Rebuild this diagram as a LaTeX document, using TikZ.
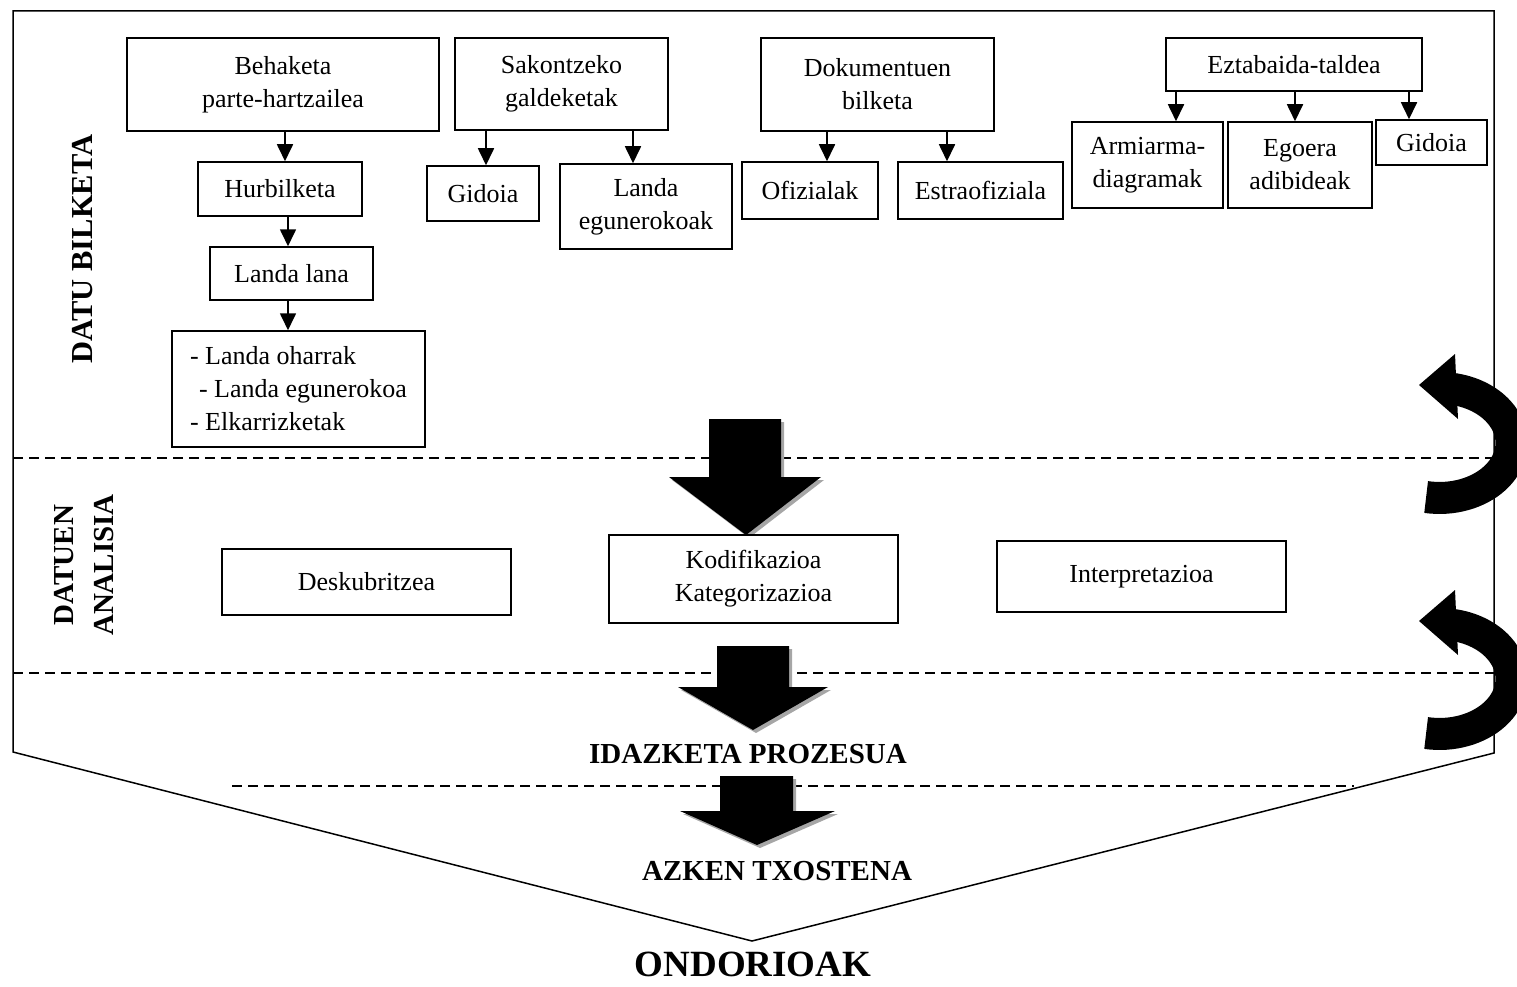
\documentclass[tikz,border=0pt]{standalone}
\usepackage{fontspec}
\setmainfont{Liberation Serif}
\usetikzlibrary{arrows.meta}
\begin{document}
\begin{tikzpicture}[x=1pt,y=-1pt,
  box/.style={draw, line width=1.5pt, fill=white, inner sep=0pt, align=center, font=\fontsize{26}{33}\selectfont},
  arr/.style={line width=1.7pt, -{Triangle[width=16pt,length=17pt]}},
  sep/.style={line width=1.2pt, dash pattern=on 10pt off 6pt},
  head/.style={font=\fontsize{29}{40}\selectfont\bfseries},
  shad/.style={fill=black!35},
  curv/.style={line width=32pt},
]
\useasboundingbox (0,0) rectangle (1517,987);
\clip (0,0) rectangle (1517,987);

% frame and separators
\draw[line width=1.5pt, line join=miter] (13,11) -- (1494,11) -- (1494,753) -- (752,941) -- (13,752) -- cycle;
\draw[sep] (13,458) -- (1494,458);
\draw[sep] (13,673) -- (1494,673);
\draw[sep] (232,786) -- (1354,786);

% big block arrows (with shadow)
\fill[shad, shift={(3,3)}] (709,419) -- (781,419) -- (781,477) -- (821,477) -- (746,535) -- (669,477) -- (709,477) -- cycle;
\fill (709,419) -- (781,419) -- (781,477) -- (821,477) -- (746,535) -- (669,477) -- (709,477) -- cycle;
\fill[shad, shift={(3,3)}] (717,646) -- (789,646) -- (789,687) -- (828,687) -- (753,730) -- (678,687) -- (717,687) -- cycle;
\fill (717,646) -- (789,646) -- (789,687) -- (828,687) -- (753,730) -- (678,687) -- (717,687) -- cycle;
\fill[shad, shift={(3,3)}] (720,776) -- (793,776) -- (793,811) -- (835,811) -- (757,845) -- (680,811) -- (720,811) -- cycle;
\fill (720,776) -- (793,776) -- (793,811) -- (835,811) -- (757,845) -- (680,811) -- (720,811) -- cycle;

% curved return arrows
\draw[curv] (1452,388.8) arc[start angle=80, end angle=-100.7, x radius=72pt, y radius=55pt];
\fill (1419,385) -- (1455,354) -- (1458,419) -- cycle;
\draw[curv] (1452,624.8) arc[start angle=80, end angle=-100.7, x radius=72pt, y radius=55pt];
\fill (1419,621) -- (1455,590) -- (1458,655) -- cycle;

% side labels
\node[font=\fontsize{30.5}{40}\selectfont\bfseries, rotate=90] (db) at (83,249) {DATU BILKETA};
\node[head, rotate=90, align=center] (da) at (84,565) {DATUEN\\ANALISIA};

% data collection boxes
\node[box, minimum width=312pt, minimum height=93pt] (beh) at (283,84.5) {Behaketa\\parte-hartzailea};
\node[box, minimum width=164pt, minimum height=54pt] (hur) at (280,189) {Hurbilketa};
\node[box, minimum width=163pt, minimum height=53pt] (lan) at (291.5,273.5) {Landa lana};
\node[box, minimum width=253pt, minimum height=116pt, align=left] (lst) at (298.5,389) {- Landa oharrak\\\hspace*{9pt}- Landa egunerokoa\\- Elkarrizketak};

\node[box, minimum width=213pt, minimum height=92pt] (sak) at (561.5,84) {Sakontzeko\\galdeketak};
\node[box, minimum width=112pt, minimum height=55pt] (gid1) at (483,193.5) {Gidoia};
\node[box, minimum width=172pt, minimum height=85pt] (lae) at (646,206.5) {Landa\\egunerokoak};

\node[box, minimum width=233pt, minimum height=93pt] (dok) at (877.5,84.5) {Dokumentuen\\bilketa};
\node[box, minimum width=136pt, minimum height=57pt] (ofi) at (810,190.5) {Ofizialak};
\node[box, minimum width=165pt, minimum height=57pt] (est) at (980.5,190.5) {Estraofiziala};

\node[box, minimum width=256pt, minimum height=53pt] (ezt) at (1294,64.5) {Eztabaida-taldea};
\node[box, minimum width=151pt, minimum height=86pt] (arm) at (1147.5,165) {Armiarma-\\diagramak};
\node[box, minimum width=144pt, minimum height=86pt] (ego) at (1300,165) {Egoera\\adibideak};
\node[box, minimum width=111pt, minimum height=45pt] (gid2) at (1431.5,142.5) {Gidoia};

% analysis boxes
\node[box, minimum width=289pt, minimum height=66pt] (desk) at (366.5,582) {Deskubritzea};
\node[box, minimum width=289pt, minimum height=88pt] (kod) at (753.5,579) {Kodifikazioa\\Kategorizazioa};
\node[box, minimum width=289pt, minimum height=71pt] (int) at (1141.5,576.5) {Interpretazioa};

% small connectors
\draw[arr] (beh.south -| 285,0) -- (hur.north -| 285,0);
\draw[arr] (hur.south -| 288,0) -- (lan.north -| 288,0);
\draw[arr] (lan.south -| 288,0) -- (lst.north -| 288,0);
\draw[arr] (sak.south -| 486,0) -- (gid1.north -| 486,0);
\draw[arr] (sak.south -| 633,0) -- (lae.north -| 633,0);
\draw[arr] (dok.south -| 827,0) -- (ofi.north -| 827,0);
\draw[arr] (dok.south -| 947,0) -- (est.north -| 947,0);
\draw[arr] (ezt.south -| 1176,0) -- (arm.north -| 1176,0);
\draw[arr] (ezt.south -| 1295,0) -- (ego.north -| 1295,0);
\draw[arr] (ezt.south -| 1409,0) -- (gid2.north -| 1409,0);

% process labels
\node[head] (idz) at (748,754) {IDAZKETA PROZESUA};
\node[head] (azk) at (777,871) {AZKEN TXOSTENA};
\node[font=\fontsize{37}{40}\selectfont\bfseries] (ond) at (753,964) {ONDORIOAK};
\end{tikzpicture}
\end{document}
